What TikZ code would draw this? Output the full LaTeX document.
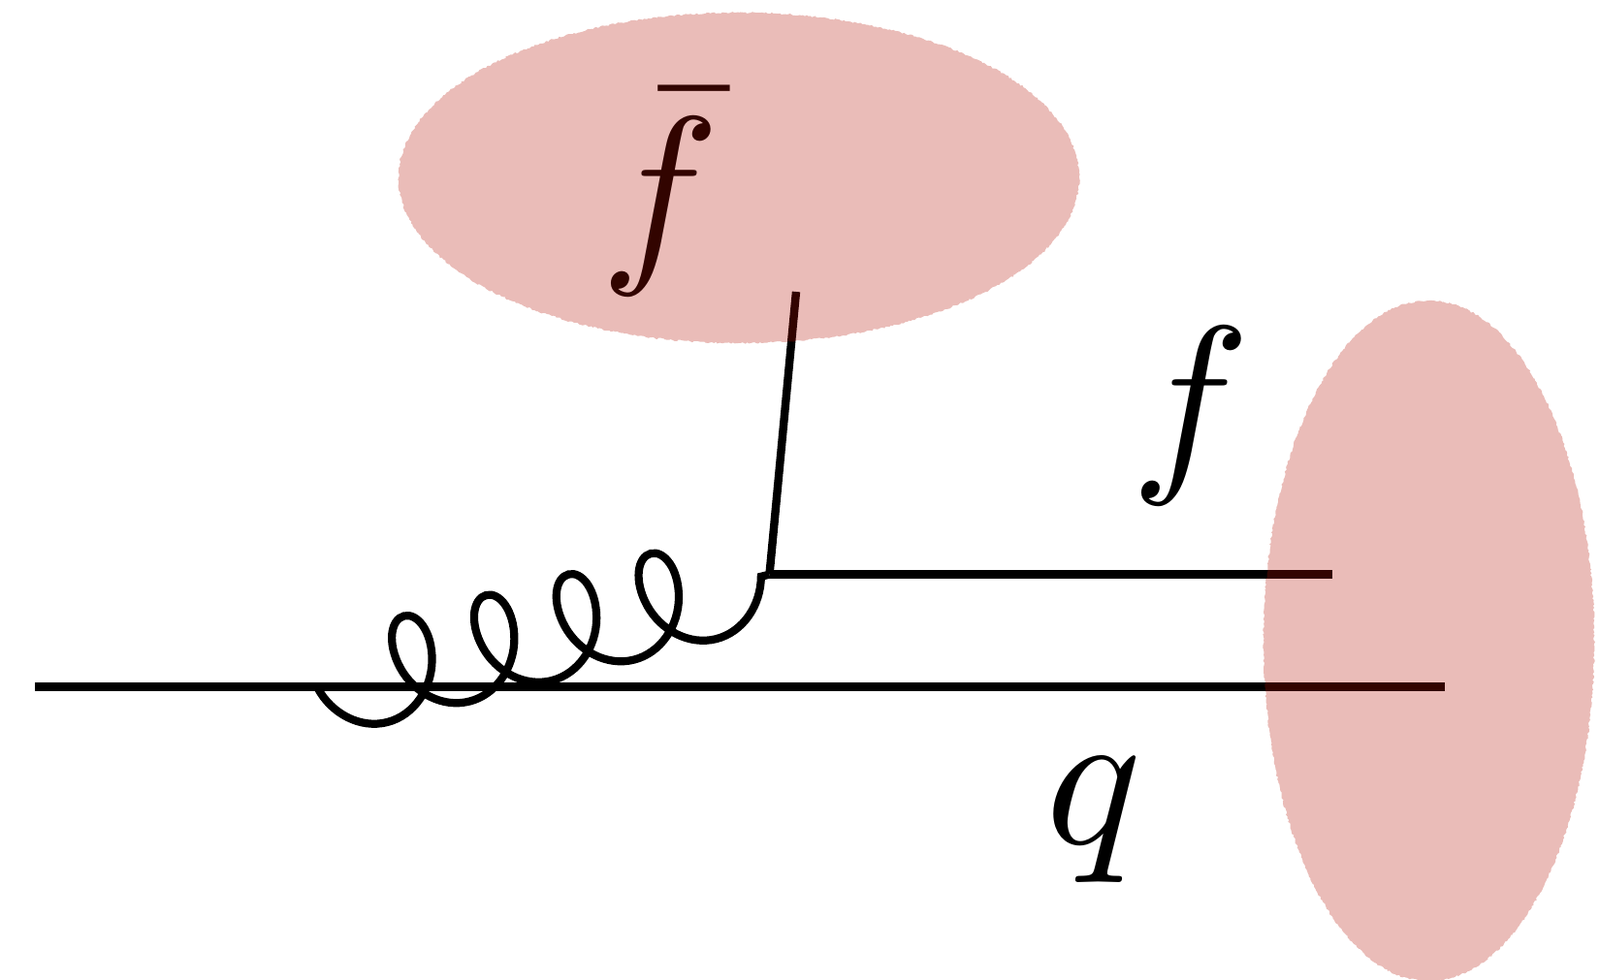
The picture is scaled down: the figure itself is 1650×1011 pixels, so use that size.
\documentclass[tikz,border=0pt]{standalone}
\usetikzlibrary{decorations.pathmorphing}
\definecolor{blobred}{RGB}{180,16,0}
\tikzset{
  fermion/.style={line width=8.4pt,black},
  gluon/.style={line width=8.2pt,black,decorate,decoration={coil,mirror,aspect=0.76,segment length=87.5pt,amplitude=51pt}},
  blob/.style={fill=blobred,fill opacity=0.28,draw=none,decorate,decoration={random steps,segment length=2pt,amplitude=0.9pt}},
  lbl/.style={inner sep=0pt,scale=20.6}
}
\begin{document}
\begin{tikzpicture}[x=1pt,y=-1pt]
\useasboundingbox (0,0) rectangle (1650,1011);
\coordinate (qs) at (36,708.6);
\coordinate (qe) at (1490,708.6);
\coordinate (v) at (793.5,592.6);
\coordinate (fe) at (1374,592.6);
\coordinate (fb) at (821,301);
\coordinate (gs) at (328,710.5);
\draw[fermion] (qs) -- (qe);
\draw[fermion] (v) -- (fe);
\draw[fermion] (v) -- (fb);
\draw[gluon] (gs) -- (v);
\node[lbl] (fbar) at (681.5,198.5) {$\bar{f}$};
\node[lbl] (f) at (1228,429) {$f$};
\node[lbl] (q) at (1128,846) {$q$};
\path[blob] (762,183.5) ellipse [x radius=351,y radius=170.5];
\path[blob] (1473.5,661) ellipse [x radius=170.5,y radius=351];
\end{tikzpicture}
\end{document}
